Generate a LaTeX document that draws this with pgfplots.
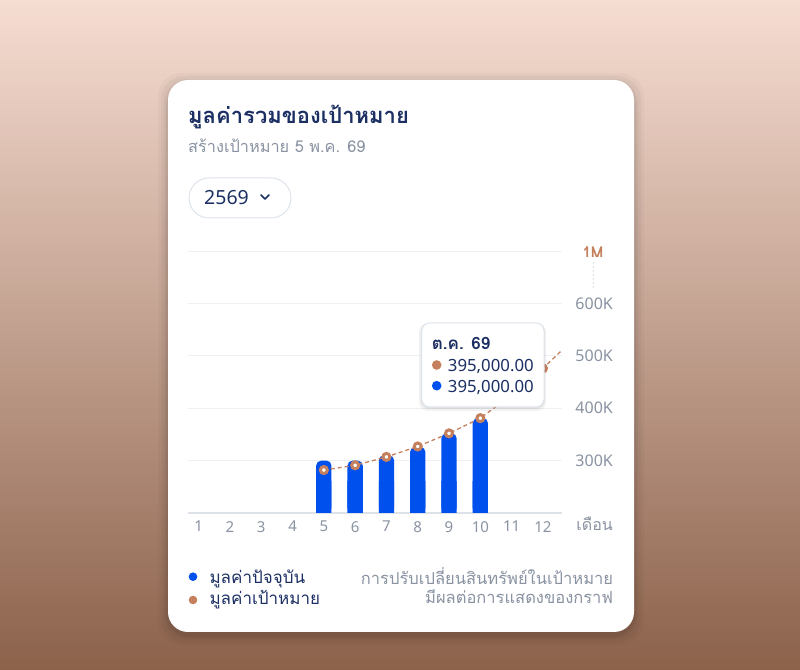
\documentclass[border=0pt]{standalone}
\usepackage{fontspec}
\setmainfont{Noto Sans}
\newfontfamily\thai[Script=Thai]{Loma}
\usepackage{pgfplots}
\usepackage{pgfplotstable}
\pgfplotsset{compat=1.18}

\definecolor{navy}{HTML}{1B2F63}
\definecolor{barblue}{HTML}{0050EE}
\definecolor{tgt}{HTML}{C5805E}
\definecolor{greytxt}{HTML}{8A93A2}
\definecolor{gridc}{HTML}{EEF1F4}
\definecolor{basec}{HTML}{DDE2E9}
\definecolor{bordc}{HTML}{DEE4EC}
\definecolor{bgtop}{HTML}{F6DDD2}
\definecolor{bgmid}{HTML}{D0A994}
\definecolor{bgbot}{HTML}{8C624B}

% current value per month
\pgfplotstableread{
m cur
5 300000
6 300000
7 310000
8 326000
9 352000
10 381000
}\curtab

% target value per month (13 only carries the line to the edge)
\pgfplotstableread{
m tgt
5 282000
6 291000
7 307000
8 327000
9 352000
10 381000
11 425000
12 476000
13 533000
}\tgttab

\pgfplotsset{monthaxis/.style={
  at={(188pt,156pt)}, anchor=south west,
  scale only axis, width=373.7pt,
  xmin=0.66, xmax=12.6, ymin=200000,
}}

\begin{document}
\begin{tikzpicture}[x=1pt,y=1pt]
\useasboundingbox (0,0) rectangle (800,669);
\shade[top color=bgtop, middle color=bgmid, bottom color=bgbot] (0,0) rectangle (800,669);

% card with soft shadow
\foreach \s/\o in {10/0.025,7/0.035,4/0.045,2/0.05}{
  \fill[black, opacity=\o, rounded corners=24pt] (168-\s,37-\s-3) rectangle (634+\s,589+\s-3);
}
\fill[white, rounded corners=20pt] (168,37) rectangle (634,589);

% header
\node[anchor=base west, inner sep=0pt, navy, font=\thai\bfseries\fontsize{22}{22}\selectfont] at (188,545) {มูลค่ารวมของเป้าหมาย};
\node[anchor=base west, inner sep=0pt, greytxt, font=\thai\fontsize{16.3}{16.3}\selectfont] at (188,516) {สร้างเป้าหมาย 5 พ.ค. 69};

% year selector
\draw[bordc, line width=1pt, rounded corners=20pt] (189,451) rectangle (291,491);
\node[anchor=base west, inner sep=0pt, navy, font=\fontsize{19.5}{19.5}\selectfont] at (204,464) {2569};
\draw[navy, line width=1.6pt, line cap=round, line join=round] (261,474) -- (265,470) -- (269,474);

% grid and bars with rounded tops
\begin{axis}[
  monthaxis, height=262pt, ymax=700000,
  axis line style={draw=none}, major tick length=0pt,
  xtick={1,2,3,4,5,6,7,8,9,10,11,12},
  ytick={300000,400000,500000,600000,700000},
  yticklabels={300K,400K,500K,600K,{}},
  scaled y ticks=false,
  yticklabel pos=right,
  ymajorgrids, grid style={gridc, line width=1pt},
  extra y ticks={200000}, extra y tick labels={},
  extra y tick style={grid style={basec, line width=2pt}},
  tick label style={greytxt},
  /pgf/number format/assume math mode=true,
  xticklabel style={anchor=north, inner sep=0pt, yshift=-8pt, font=\fontsize{15}{15}\selectfont},
  yticklabel style={anchor=east, inner sep=0pt, xshift=51.3pt, font=\fontsize{16}{16}\selectfont},
]
\addplot[ybar, bar width=15.3pt, fill=barblue, draw=none, rounded corners=5pt]
  table[x=m, y=cur] {\curtab};
\end{axis}

% same bars, square at the foot (axis cut at 260K)
\begin{axis}[monthaxis, height=31.44pt, ymax=260000, hide axis]
\addplot[ybar, bar width=15.3pt, fill=barblue, draw=none]
  table[x=m, y=cur] {\curtab};
\end{axis}

% target line
\begin{axis}[monthaxis, height=262pt, ymax=700000, hide axis]
\addplot[tgt, line width=1.3pt, dash pattern=on 4pt off 3pt,
  mark=*, mark size=3.5pt, mark options={solid, fill=white, draw=tgt, line width=3pt}]
  table[x=m, y=tgt] {\tgttab};
\end{axis}

% 1M marker above the axis break
\node[tgt, inner sep=0pt, font=\thai\bfseries\fontsize{15}{15}\selectfont] at (593,417) {1M};
\draw[basec, line width=1pt, dash pattern=on 2pt off 2pt] (593,407) -- (593,381);
\node[anchor=base east, inner sep=0pt, greytxt, font=\thai\fontsize{16}{16}\selectfont] at (613,138) {เดือน};

% tooltip
\fill[black, opacity=0.05, rounded corners=9pt] (419,258) rectangle (546,346);
\fill[black, opacity=0.05, rounded corners=9pt] (420.5,260) rectangle (545,346);
\filldraw[fill=white, draw=bordc, line width=1pt, rounded corners=8pt] (421.7,262) rectangle (544,346);
\node[anchor=base west, inner sep=0pt, navy, font=\thai\bfseries\fontsize{17}{17}\selectfont] at (431.7,319) {ต.ค. 69};
\fill[tgt] (436.7,304) circle (4.8);
\node[anchor=base west, inner sep=0pt, navy, font=\fontsize{16.8}{16.8}\selectfont] at (447.7,297.3) {395,000.00};
\fill[barblue] (436.7,283.3) circle (4.8);
\node[anchor=base west, inner sep=0pt, navy, font=\fontsize{16.8}{16.8}\selectfont] at (447.7,276.3) {395,000.00};

% legend and note
\fill[barblue] (193,92.3) circle (4.3);
\node[anchor=base west, inner sep=0pt, navy, font=\thai\fontsize{17}{17}\selectfont] at (209.3,85.7) {มูลค่าปัจจุบัน};
\fill[tgt] (193,69) circle (4.3);
\node[anchor=base west, inner sep=0pt, navy, font=\thai\fontsize{17}{17}\selectfont] at (209.3,64) {มูลค่าเป้าหมาย};
\node[anchor=base east, inner sep=0pt, greytxt, font=\thai\fontsize{16.5}{16.5}\selectfont] at (613.3,84.7) {การปรับเปลี่ยนสินทรัพย์ในเป้าหมาย};
\node[anchor=base east, inner sep=0pt, greytxt, font=\thai\fontsize{16.5}{16.5}\selectfont] at (613.3,65) {มีผลต่อการแสดงของกราฟ};
\end{tikzpicture}
\end{document}
